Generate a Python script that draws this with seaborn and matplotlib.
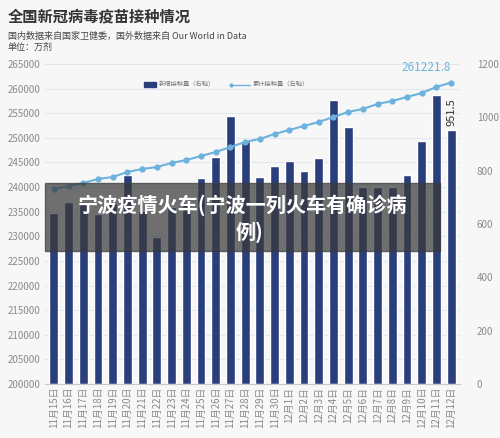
import matplotlib
matplotlib.use("Agg")
import matplotlib.pyplot as plt
import seaborn as sns
import pandas as pd
import numpy as np
from matplotlib.patches import Rectangle

sns.set_style("white")
plt.rcParams['font.family'] = ['Noto Sans CJK SC', 'DejaVu Sans']

dates = [f"11月{d}日" for d in range(15, 31)] + [f"12月{d}日" for d in range(1, 13)]
daily = [643, 684, 680, 639, 680, 782, 647, 553, 665, 684, 771, 853, 1004, 913,
         778, 816, 838, 797, 846, 1064, 962, 740, 740, 738, 782, 913, 1083, 951.5]
cumul = [239609, 240219, 240828, 241640, 242047, 243063, 243672, 244078, 244891,
         245500, 246312, 247125, 248141, 249156, 249766, 250781, 251594, 252406,
         253219, 254234, 255250, 255859, 256875, 257484, 258297, 259109, 260328, 261221.8]

df = pd.DataFrame({"date": dates, "daily": daily, "cumul": cumul})
bar_c = "#2a3e7c"
line_c = "#6cb2dc"
grey = "#8a8a8a"

fig = plt.figure(figsize=(5, 4.38), dpi=100, facecolor="#f7f7f7")
ax = fig.add_axes([0.09, 0.123, 0.83, 0.731])
ax.set_facecolor("#f7f7f7")
ax2 = ax.twinx()

ax2.set_ylim(0, 1200)
for v in range(205000, 265001, 5000):
    ax2.axhline((v - 200000) / 65000 * 1200, color="#e3e6ee", linewidth=0.8, zorder=0)
sns.barplot(data=df, x="date", y="daily", color=bar_c, width=0.6, ax=ax2, zorder=2, saturation=1)
ax2.set_ylim(0, 1200)
ax2.set_yticks(range(0, 1201, 200))
ax.set_zorder(ax2.get_zorder() + 1)
ax.patch.set_visible(False)
sns.lineplot(x=np.arange(len(dates)), y=df["cumul"], ax=ax, color=line_c, marker="o",
             markersize=4.5, markeredgewidth=0, linewidth=1.5)
ax.set_ylim(200000, 265000)
ax.set_yticks(range(200000, 265001, 5000))
ax.set_xlim(-0.6, len(dates) - 0.4)
ax.set_xticks(np.arange(len(dates)))
ax.set_xticklabels(dates, rotation=90, fontsize=7, color=grey)
ax.tick_params(axis="y", labelsize=7, colors=grey, length=0)
ax.tick_params(axis="x", length=0, pad=2)
ax2.tick_params(axis="y", labelsize=7, colors=grey, length=0, pad=12)
for a in (ax, ax2):
    a.set_xlabel(""); a.set_ylabel("")
    for s in a.spines.values():
        s.set_visible(False)
ax.spines["bottom"].set_visible(True)
ax.spines["bottom"].set_color("#c8c8c8")

ax.annotate("261221.8", (len(dates) - 1, cumul[-1]), xytext=(0, 6), textcoords="offset points",
            ha="right", va="bottom", fontsize=8.5, color=line_c)
ax2.annotate("951.5", (len(dates) - 1, daily[-1]), xytext=(0, 3), textcoords="offset points",
             ha="center", va="bottom", rotation=90, fontsize=8, color="#333333")

# legend
fig.patches.append(Rectangle((0.288, 0.802), 0.024, 0.011, transform=fig.transFigure, color=bar_c))
fig.text(0.318, 0.807, "新增接种量（右轴）", fontsize=4.5, color="#777777", va="center")
fig.lines.append(plt.Line2D([0.462, 0.5], [0.807, 0.807], transform=fig.transFigure, color=line_c, lw=1,
                            marker="o", markersize=2, markevery=[0]))
fig.text(0.505, 0.807, "累计接种量（左轴）", fontsize=4.5, color="#777777", va="center")

fig.text(0.016, 0.962, "全国新冠病毒疫苗接种情况", fontsize=11, fontweight="bold", color="#333333", va="center")
fig.text(0.016, 0.917, "国内数据来自国家卫健委，国外数据来自 Our World in Data", fontsize=6.5, color="#444444", va="center")
fig.text(0.016, 0.893, "单位：万剂", fontsize=6.5, color="#444444", va="center")

# overlay
fig.patches.append(Rectangle((0.09, 0.428), 0.79, 0.155, transform=fig.transFigure,
                             color="#3a3a3a", alpha=0.72, zorder=5))
fig.text(0.485, 0.532, "宁波疫情火车(宁波一列火车有确诊病", fontsize=14.5, fontweight="bold",
         color="white", ha="center", va="center", zorder=6)
fig.text(0.5, 0.47, "例)", fontsize=14.5, fontweight="bold", color="white", ha="center", va="center", zorder=6)

fig.savefig("out.png", dpi=100, facecolor=fig.get_facecolor())
